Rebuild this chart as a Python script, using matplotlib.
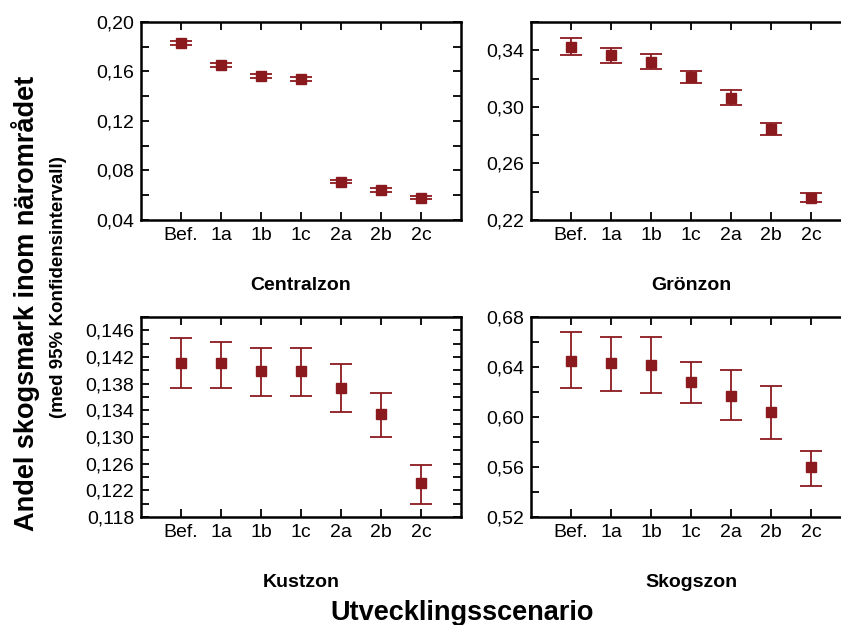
import numpy as np
import matplotlib
matplotlib.use("Agg")
from matplotlib import pyplot as plt
from matplotlib.ticker import FixedLocator, FuncFormatter

plt.rcParams['font.family'] = ['Liberation Sans', 'DejaVu Sans']

# scenarier
categories = ["Bef.", "1a", "1b", "1c", "2a", "2b", "2c"]

# medelvärde, nedre och övre gräns (95% KI)
central_mean = [0.1833, 0.1650, 0.1564, 0.1537, 0.0710, 0.0640, 0.0580]
central_low = [0.1818, 0.1635, 0.1549, 0.1522, 0.0695, 0.0625, 0.0567]
central_high = [0.1848, 0.1665, 0.1579, 0.1552, 0.0725, 0.0655, 0.0593]

gron_mean = [0.3425, 0.3365, 0.3320, 0.3210, 0.3066, 0.2845, 0.2358]
gron_low = [0.3365, 0.3312, 0.3266, 0.3167, 0.3013, 0.2801, 0.2327]
gron_high = [0.3485, 0.3419, 0.3372, 0.3254, 0.3119, 0.2888, 0.2389]

kust_mean = [0.1411, 0.1411, 0.1399, 0.1399, 0.1373, 0.1334, 0.1231]
kust_low = [0.1373, 0.1373, 0.1362, 0.1362, 0.1338, 0.1300, 0.1200]
kust_high = [0.1448, 0.1443, 0.1433, 0.1433, 0.1409, 0.1366, 0.1258]

skog_mean = [0.6450, 0.6434, 0.6416, 0.6278, 0.6170, 0.6038, 0.5598]
skog_low = [0.6229, 0.6210, 0.6190, 0.6114, 0.5976, 0.5824, 0.5450]
skog_high = [0.6682, 0.6642, 0.6642, 0.6438, 0.6376, 0.6248, 0.5730]

color = '#8B1A1F'

fig = plt.figure(figsize=(8.41, 6.25), dpi=100)

# [namn, medel, låg, hög, ylim, major, minor, decimaler, position]
panels = [
    ("Centralzon", central_mean, central_low, central_high, (0.04, 0.20), 0.04, 0.02, 2,
     [0.1677, 0.648, 0.3805, 0.3168]),
    ("Grönzon", gron_mean, gron_low, gron_high, (0.22, 0.36), 0.04, 0.02, 2,
     [0.6314, 0.648, 0.3805, 0.3168]),
    ("Kustzon", kust_mean, kust_low, kust_high, (0.118, 0.148), 0.004, 0.002, 3,
     [0.1677, 0.1728, 0.3805, 0.32]),
    ("Skogszon", skog_mean, skog_low, skog_high, (0.52, 0.68), 0.04, 0.02, 2,
     [0.6314, 0.1728, 0.3805, 0.32]),
]

for name, mean, low, high, ylim, major, minor, dec, pos in panels:
    ax = fig.add_axes(pos)
    x = np.arange(len(categories))
    mean = np.array(mean)
    yerr = [mean - np.array(low), np.array(high) - mean]
    ax.errorbar(x, mean, yerr=yerr, fmt='s', color=color, ecolor=color,
                markersize=7.5, capsize=8, elinewidth=1.3, capthick=1.3)
    ax.set_xlim(-1, len(categories))
    ax.set_ylim(*ylim)
    ax.set_xticks(x)
    ax.set_xticklabels(categories)
    ax.yaxis.set_major_locator(FixedLocator(np.arange(ylim[0], ylim[1] + 1e-9, major)))
    ax.yaxis.set_minor_locator(FixedLocator(np.arange(ylim[0], ylim[1] + 1e-9, minor)))
    ax.yaxis.set_major_formatter(FuncFormatter(
        lambda v, p, d=dec: f"{v:.{d}f}".replace('.', ',')))
    ax.tick_params(axis='both', which='both', direction='in', top=True, right=True,
                   labelsize=14, width=1.3, length=6, pad=5)
    ax.tick_params(axis='y', which='minor', length=6)
    for s in ax.spines.values():
        s.set_linewidth(1.8)
    ax.set_xlabel(name, fontsize=14, fontweight='bold', labelpad=24)

fig.text(0.03, 0.515, "Andel skogsmark inom närområdet", rotation=90,
         ha='center', va='center', fontsize=19.5, fontweight='bold')
fig.text(0.069, 0.54, "(med 95% Konfidensintervall)", rotation=90,
         ha='center', va='center', fontsize=13.5, fontweight='bold')
fig.text(0.55, 0.02, "Utvecklingsscenario", ha='center', va='center',
         fontsize=19.5, fontweight='bold')

fig.savefig("out.png", dpi=100)
